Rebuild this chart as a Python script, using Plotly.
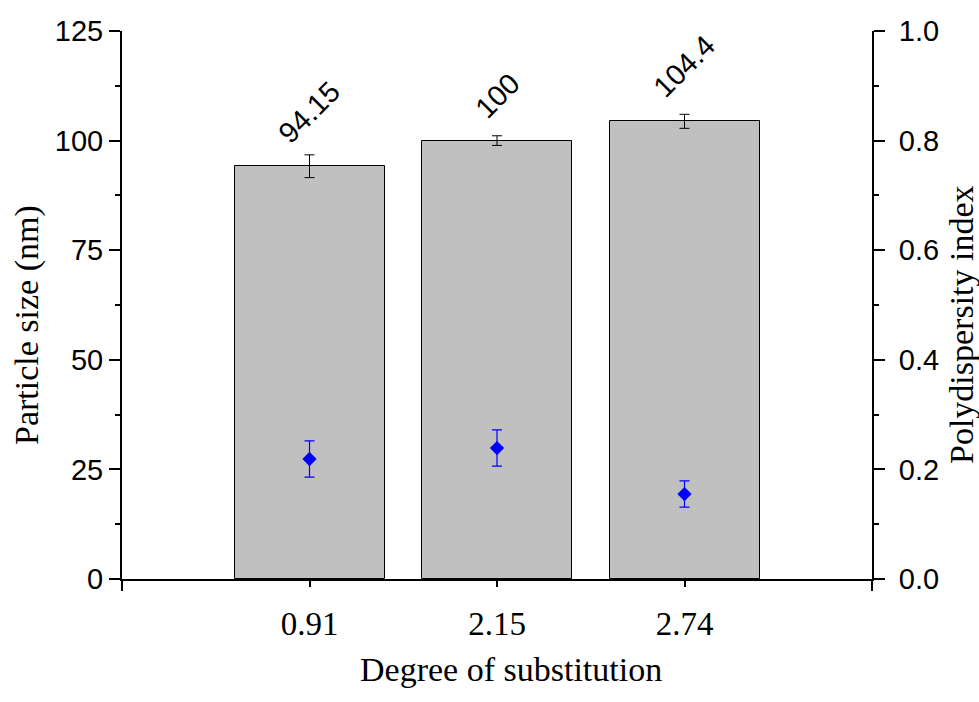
import plotly.graph_objects as go

categories = ["0.91", "2.15", "2.74"]
positions = [1, 2, 3]
particle_size = [94.15, 100.0, 104.4]
particle_err = [2.6, 1.1, 1.6]
pdi = [0.219, 0.239, 0.155]
pdi_err = [0.033, 0.033, 0.024]
size_labels = ["94.15", "100", "104.4"]
label_yshift = [54, 45, 55]

SERIF = "Liberation Serif, Times New Roman, serif"
SANS = "Liberation Sans, Arial, sans-serif"

W, H = 979, 702
L, R, T, B = 122, 107, 31, 123
pw, ph = W - L - R, H - T - B


def px_to_paper(xp, yp):
    return (xp - L) / pw, (H - B - yp) / ph


fig = go.Figure()

fig.add_trace(go.Bar(
    x=positions, y=particle_size, width=0.8,
    marker=dict(color="#C0C0C0", line=dict(color="black", width=1)),
    error_y=dict(type="data", array=particle_err, color="black", thickness=1, width=5),
    xaxis="x", yaxis="y", showlegend=False,
))

fig.add_trace(go.Scatter(
    x=positions, y=pdi, mode="markers",
    marker=dict(symbol="diamond", size=11, color="#0000FF", line=dict(width=0)),
    error_y=dict(type="data", array=pdi_err, color="#0000FF", thickness=1.2, width=5),
    xaxis="x", yaxis="y2", showlegend=False,
))

fig.add_trace(go.Scatter(x=[None], y=[None], xaxis="x2", yaxis="y",
                         showlegend=False, hoverinfo="skip"))

for xp, v, t, ys in zip(positions, particle_size, size_labels, label_yshift):
    fig.add_annotation(x=xp, y=v, xref="x", yref="y", text=t, showarrow=False,
                       textangle=-45, xanchor="center", yanchor="middle",
                       yshift=ys, font=dict(family=SANS, size=29, color="black"))

titles = [
    ("Particle size (nm)", 27, 325, -90),
    ("Polydispersity index", 961, 325, -90),
    ("Degree of substitution", 511, 669, 0),
]
for text, xpx, ypx, ang in titles:
    ax, ay = px_to_paper(xpx, ypx)
    fig.add_annotation(x=ax, y=ay, xref="paper", yref="paper", text=text,
                       showarrow=False, textangle=ang, xanchor="center", yanchor="middle",
                       font=dict(family=SERIF, size=34, color="black"))

fig.update_layout(
    width=W, height=H,
    margin=dict(l=L, r=R, t=T, b=B, pad=0),
    paper_bgcolor="white", plot_bgcolor="white",
    bargap=0,
    xaxis=dict(range=[0, 4], tickvals=positions, ticktext=categories,
               showline=True, linecolor="black", linewidth=2,
               ticks="outside", ticklen=6, tickwidth=1.5, tickcolor="black",
               showgrid=False, zeroline=False,
               tickfont=dict(family=SERIF, size=33, color="black"),
               ticklabelstandoff=8),
    xaxis2=dict(range=[0, 4], overlaying="x", anchor="y", side="bottom",
                tickvals=[0, 4], showticklabels=False,
                ticks="outside", ticklen=11, tickwidth=2, tickcolor="black",
                showgrid=False, zeroline=False, showline=False),
    yaxis=dict(range=[0, 125], tickvals=[0, 25, 50, 75, 100, 125],
               showline=True, linecolor="black", linewidth=2,
               ticks="outside", ticklen=11, tickwidth=2, tickcolor="black",
               minor=dict(dtick=12.5, tick0=0, ticks="outside", ticklen=5,
                          tickwidth=2, tickcolor="black"),
               showgrid=False, zeroline=False,
               tickfont=dict(family=SANS, size=29, color="black")),
    yaxis2=dict(range=[0, 1.0], tickvals=[0, 0.2, 0.4, 0.6, 0.8, 1.0], tickformat=".1f",
                overlaying="y", side="right", anchor="x",
                showline=True, linecolor="black", linewidth=2,
                ticks="outside", ticklen=11, tickwidth=2, tickcolor="black",
                minor=dict(dtick=0.1, tick0=0, ticks="outside", ticklen=5,
                           tickwidth=2, tickcolor="black"),
                showgrid=False, zeroline=False,
                ticklabelstandoff=8,
                tickfont=dict(family=SANS, size=29, color="black")),
)

fig.write_html("out.html")
